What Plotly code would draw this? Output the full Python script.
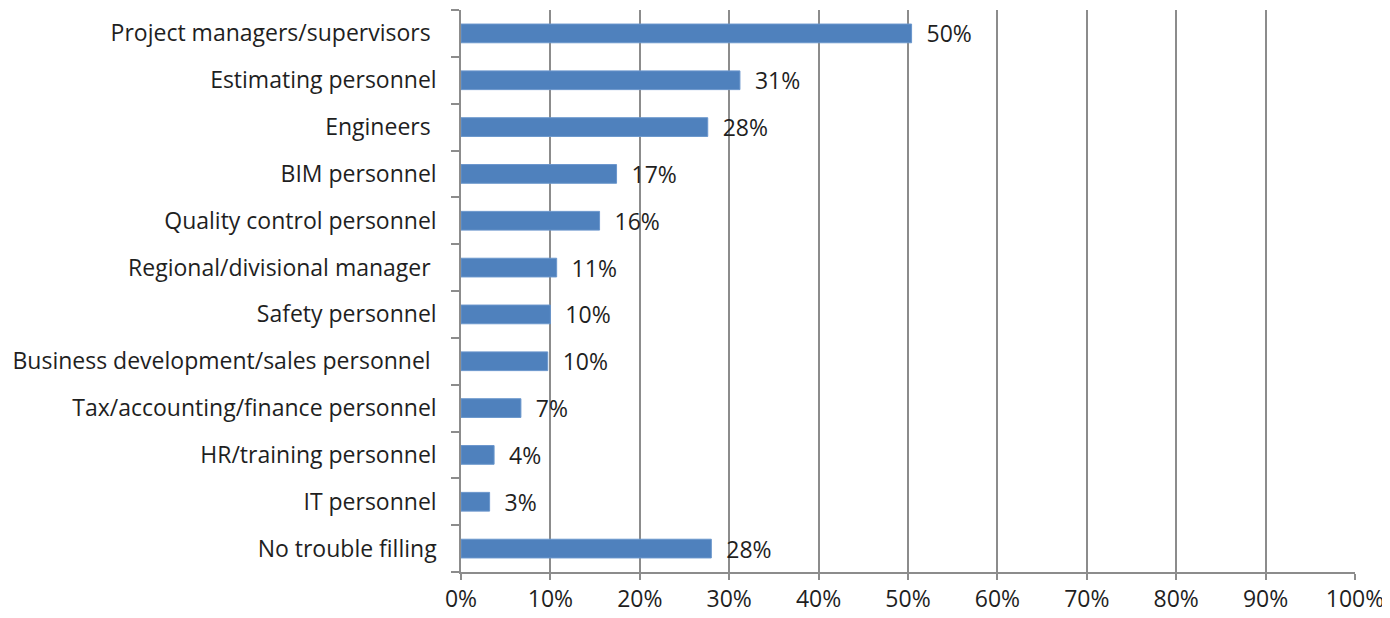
import plotly.graph_objects as go

categories = [
    "Project managers/supervisors\u00a0",
    "Estimating personnel",
    "Engineers\u00a0",
    "BIM personnel",
    "Quality control personnel",
    "Regional/divisional manager\u00a0",
    "Safety personnel",
    "Business development/sales personnel\u00a0",
    "Tax/accounting/finance personnel",
    "HR/training personnel",
    "IT personnel",
    "No trouble filling",
]
values = [50.4, 31.2, 27.6, 17.4, 15.5, 10.7, 10.0, 9.7, 6.7, 3.7, 3.2, 28.0]
labels = ["50%", "31%", "28%", "17%", "16%", "11%", "10%", "10%", "7%", "4%", "3%", "28%"]
tick_vals = [0, 10, 20, 30, 40, 50, 60, 70, 80, 90, 100]
tick_text = [f"{v}%" for v in tick_vals]

font_family = "Open Sans, Noto Sans, sans-serif"
text_color = "#1F1F1F"
grid_color = "#8C8C8C"
fs = 23

fig = go.Figure()
fig.add_trace(go.Bar(
    y=categories,
    x=values,
    orientation="h",
    marker=dict(color="#4F81BD", line=dict(color="#6A96CC", width=1)),
    text=["  " + t for t in labels],
    textposition="outside",
    constraintext="none",
    textfont=dict(size=fs, color=text_color, family=font_family),
    cliponaxis=False,
    width=0.4,
))

fig.update_layout(
    width=1382,
    height=610,
    margin=dict(l=453, r=35, t=2, b=46, autoexpand=False),
    paper_bgcolor="white",
    plot_bgcolor="white",
    showlegend=False,
    font=dict(family=font_family, size=fs, color=text_color),
    xaxis=dict(
        range=[0, 100],
        tickvals=tick_vals,
        ticktext=tick_text,
        showgrid=True,
        gridcolor=grid_color,
        gridwidth=1.5,
        showline=True,
        linecolor=grid_color,
        linewidth=1.5,
        ticks="outside",
        ticklen=6,
        tickcolor=grid_color,
        tickwidth=1.5,
        zeroline=False,
        automargin=False,
        tickfont=dict(size=fs, color=text_color),
    ),
    yaxis=dict(
        categoryorder="array",
        categoryarray=categories[::-1],
        autorange=False,
        range=[-0.5, len(categories) - 0.5],
        showline=True,
        linecolor=grid_color,
        linewidth=1.5,
        ticks="outside",
        tickson="boundaries",
        ticklen=8,
        tickcolor=grid_color,
        tickwidth=1.5,
        showgrid=False,
        automargin=False,
        tickfont=dict(size=fs, color=text_color),
        ticklabelstandoff=18,
    ),
)

fig.write_html("out.html")
